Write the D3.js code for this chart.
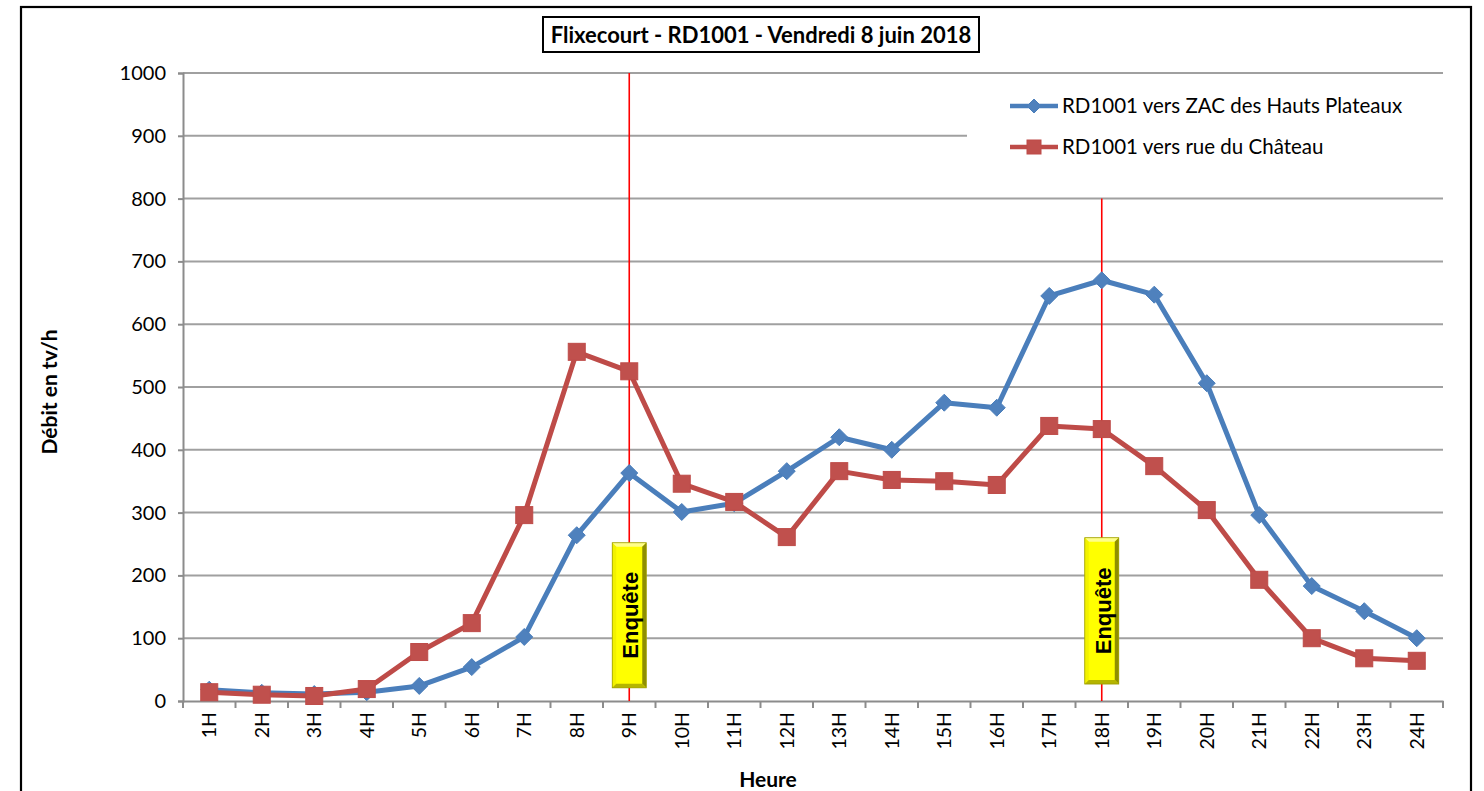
<!DOCTYPE html>
<html>
<head>
<meta charset="utf-8">
<script src="https://cdn.jsdelivr.net/npm/d3@7"></script>
<style>
  html, body { margin: 0; padding: 0; background: #fff; }
  svg { display: block; }
</style>
</head>
<body>
<svg id="chart" width="1484" height="791"></svg>
<script>
const hours = ["1H","2H","3H","4H","5H","6H","7H","8H","9H","10H","11H","12H","13H","14H","15H","16H","17H","18H","19H","20H","21H","22H","23H","24H"];
const zacValues = [18,13,11,14,24,54,102,264,363,301,315,366,420,400,475,467,645,670,647,506,296,183,143,100];
const chateauValues = [14,10,8,19,78,124,296,556,525,346,317,261,366,352,350,344,438,433,374,304,193,100,68,64];
const seriesNames = ["RD1001 vers ZAC des Hauts Plateaux", "RD1001 vers rue du Château"];
const yTicks = [0,100,200,300,400,500,600,700,800,900,1000];
const surveyHours = ["9H","18H"];
const surveyLineTop = [1000, 800];
const surveyBoxRange = [[21, 252],[27, 260]];
const titleText = "Flixecourt - RD1001 - Vendredi 8 juin 2018";
const yTitle = "Débit en tv/h";
const xTitle = "Heure";
const surveyLabel = "Enquête";

const svg = d3.select("#chart");
const font = "Lato, 'Open Sans', sans-serif";
const x0 = 183, x1 = 1443, y0 = 701, y1 = 73;

const x = d3.scaleBand().domain(hours).range([x0, x1]).paddingInner(0).paddingOuter(0);
const xc = h => x(h) + x.bandwidth() / 2;
const y = d3.scaleLinear().domain([0, 1000]).range([y0, y1]);

// Outer chart border
svg.append("rect").attr("x", 21).attr("y", 7).attr("width", 1450).attr("height", 820)
  .attr("fill", "#fff").attr("stroke", "#000").attr("stroke-width", 2.2);

// Gridlines
svg.append("g").selectAll("line").data(yTicks.filter(d => d > 0)).join("line")
  .attr("x1", x0).attr("x2", x1)
  .attr("y1", d => y(d)).attr("y2", d => y(d))
  .attr("stroke", "#a0a0a0").attr("stroke-width", 2);

// Y axis
const yAxis = d3.axisLeft(y).tickValues(yTicks).tickSize(5).tickPadding(12).tickFormat(d3.format("d"));
const gy = svg.append("g").attr("transform", `translate(${x0},0)`).call(yAxis);
gy.select(".domain").attr("stroke", "#8c8c8c").attr("stroke-width", 2);
gy.selectAll(".tick line").attr("stroke", "#8c8c8c").attr("stroke-width", 2);
gy.selectAll(".tick text").attr("font-family", font).attr("font-size", 20).attr("fill", "#000");

// X axis
const xAxis = d3.axisBottom(x).tickSize(0).tickPadding(0);
const gx = svg.append("g").attr("transform", `translate(0,${y0})`).call(xAxis);
gx.select(".domain").attr("stroke", "#8c8c8c").attr("stroke-width", 2);
gx.selectAll(".tick text")
  .attr("font-family", font).attr("font-size", 19.5).attr("fill", "#000")
  .attr("transform", "rotate(-90)")
  .attr("text-anchor", "end")
  .attr("x", -11).attr("y", 0).attr("dy", "0.36em");
// category boundary ticks
const bounds = hours.map(h => x(h)).concat([x1]);
svg.append("g").selectAll("line").data(bounds).join("line")
  .attr("x1", d => d).attr("x2", d => d)
  .attr("y1", y0).attr("y2", y0 + 7)
  .attr("stroke", "#8c8c8c").attr("stroke-width", 2);

// Legend background (covers gridline)
svg.append("rect").attr("x", 967).attr("y", 84).attr("width", 476).attr("height", 94).attr("fill", "#fff");

// Survey vertical lines
svg.append("g").selectAll("line").data(surveyHours).join("line")
  .attr("x1", d => xc(d)).attr("x2", d => xc(d))
  .attr("y1", (d, i) => y(surveyLineTop[i])).attr("y2", y(0))
  .attr("stroke", "#ff0000").attr("stroke-width", 1.6);

// Lines
const line = d3.line().x((d, i) => xc(hours[i])).y(d => y(d));
const blueLine = "#4a7ebb", blueFill = "#4f81bd";
const redLine = "#be4b48", redFill = "#c0504d";

svg.append("path").datum(zacValues).attr("d", line)
  .attr("fill", "none").attr("stroke", blueLine).attr("stroke-width", 5).attr("stroke-linejoin", "round");
svg.append("path").datum(chateauValues).attr("d", line)
  .attr("fill", "none").attr("stroke", redLine).attr("stroke-width", 5).attr("stroke-linejoin", "round");

const diamond = r => `M0,${-r}L${r},0L0,${r}L${-r},0Z`;
svg.append("g").selectAll("path").data(zacValues).join("path")
  .attr("d", diamond(8.5))
  .attr("transform", (d, i) => `translate(${xc(hours[i])},${y(d)})`)
  .attr("fill", blueFill).attr("stroke", blueLine).attr("stroke-width", 1);
svg.append("g").selectAll("rect").data(chateauValues).join("rect")
  .attr("x", (d, i) => xc(hours[i]) - 8.5).attr("y", d => y(d) - 8.5)
  .attr("width", 17).attr("height", 17)
  .attr("fill", redFill).attr("stroke", redLine).attr("stroke-width", 1);

// Survey boxes (bevelled yellow)
const bw = 34, bev = 4;
surveyHours.forEach((h, i) => {
  const cx = xc(h);
  const [lo, hi] = surveyBoxRange[i];
  const top = y(hi), bot = y(lo);
  const left = cx - bw / 2, right = cx + bw / 2;
  const g = svg.append("g");
  g.append("rect").attr("x", left).attr("y", top).attr("width", bw).attr("height", bot - top).attr("fill", "#ffff00");
  g.append("path").attr("d", `M${left},${top}L${right},${top}L${right-bev},${top+bev}L${left+bev},${top+bev}Z`).attr("fill", "#ffff8a");
  g.append("path").attr("d", `M${left},${top}L${left+bev},${top+bev}L${left+bev},${bot-bev}L${left},${bot}Z`).attr("fill", "#f2f200");
  g.append("path").attr("d", `M${right},${top}L${right},${bot}L${right-bev},${bot-bev}L${right-bev},${top+bev}Z`).attr("fill", "#8f8f00");
  g.append("path").attr("d", `M${left},${bot}L${right},${bot}L${right-bev},${bot-bev}L${left+bev},${bot-bev}Z`).attr("fill", "#b5b500");
  g.append("rect").attr("x", left).attr("y", top).attr("width", bw).attr("height", bot - top)
    .attr("fill", "none").attr("stroke", "#9a9a00").attr("stroke-width", 0.8);
  g.append("text")
    .attr("transform", `translate(${cx + 1},${(top + bot) / 2}) rotate(-90)`)
    .attr("text-anchor", "middle").attr("dy", "0.36em")
    .attr("font-family", "'Liberation Sans', Arial, sans-serif").attr("font-weight", "bold")
    .attr("font-size", 22).attr("fill", "#000")
    .text(surveyLabel);
});

// Legend
const legendY = [106, 147];
const lg = svg.append("g");
[0, 1].forEach(i => {
  const ly = legendY[i];
  lg.append("line").attr("x1", 1010).attr("x2", 1058).attr("y1", ly).attr("y2", ly)
    .attr("stroke", i === 0 ? blueLine : redLine).attr("stroke-width", 4.5);
  if (i === 0) {
    lg.append("path").attr("d", diamond(7)).attr("transform", `translate(1034,${ly})`)
      .attr("fill", blueFill).attr("stroke", blueLine);
  } else {
    lg.append("rect").attr("x", 1027).attr("y", ly - 7).attr("width", 14).attr("height", 14)
      .attr("fill", redFill).attr("stroke", redLine);
  }
  lg.append("text").attr("x", 1062).attr("y", ly).attr("dy", "0.35em")
    .attr("font-family", font).attr("font-size", 20.5).attr("fill", "#000")
    .text(seriesNames[i]);
});

// Title box
const tb = svg.append("g");
tb.append("rect").attr("x", 543).attr("y", 17).attr("width", 436).attr("height", 35)
  .attr("fill", "#fff").attr("stroke", "#000").attr("stroke-width", 2);
tb.append("text").attr("x", 761).attr("y", 35).attr("dy", "0.35em").attr("text-anchor", "middle")
  .attr("font-family", font).attr("font-weight", "bold").attr("font-size", 22).attr("fill", "#000")
  .text(titleText);

// Axis titles
svg.append("text").attr("transform", `translate(50,392) rotate(-90)`)
  .attr("text-anchor", "middle").attr("dy", "0.35em")
  .attr("font-family", font).attr("font-weight", "bold").attr("font-size", 21).attr("fill", "#000")
  .text(yTitle);
svg.append("text").attr("x", 768).attr("y", 780).attr("dy", "0.35em")
  .attr("text-anchor", "middle")
  .attr("font-family", font).attr("font-weight", "bold").attr("font-size", 21).attr("fill", "#000")
  .text(xTitle);
</script>
</body>
</html>
